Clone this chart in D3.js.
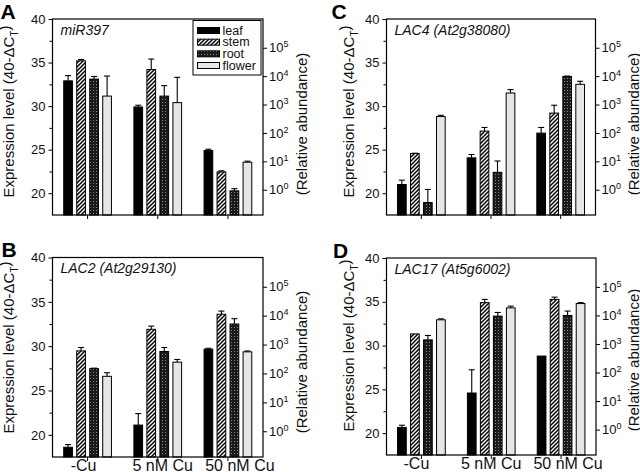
<!DOCTYPE html>
<html><head><meta charset="utf-8">
<script src="https://cdn.jsdelivr.net/npm/d3@7"></script>
<style>
html,body{margin:0;padding:0;background:#fff;}
svg{display:block;font-family:"Liberation Sans",Arial,Helvetica,sans-serif;}
</style></head><body>
<svg id="chart" width="640" height="472"></svg>
<script>
// ---------- data ----------
const groups = ["-Cu", "5 nM Cu", "50 nM Cu"];
const tissues = ["leaf", "stem", "root", "flower"];
const leftTicks = [20, 25, 30, 35, 40];
const leftMinorTicks = [22.5, 27.5, 32.5, 37.5];
const rightTickExp = [0, 1, 2, 3, 4, 5];
const yDomain = [17.5, 40];
// right axis: 10^n placed at 40-dCT value = rightBase + rightStep*n
const rightBase = 20.4;
const rightStep = 3.26;

const panelLetters = ["A", "B", "C", "D"];
const panelTitles = ["miR397", "LAC2 (At2g29130)", "LAC4 (At2g38080)", "LAC17 (At5g6002)"];

// A: miR397
const aLeaf = [32.9, 29.9, 24.9],   aLeafErr = [0.6, 0.2, 0.15];
const aStem = [35.2, 34.2, 22.45],  aStemErr = [0.15, 1.2, 0.12];
const aRoot = [33.1, 31.15, 20.27], aRootErr = [0.3, 1.2, 0.25];
const aFlower = [31.15, 30.4, 23.56], aFlowerErr = [2.3, 2.9, 0.12];
// B: LAC2
const bLeaf = [18.6, 21.1, 29.66],  bLeafErr = [0.3, 1.3, 0.1];
const bStem = [29.47, 31.9, 33.6],  bStemErr = [0.38, 0.36, 0.36];
const bRoot = [27.47, 29.4, 32.5],  bRootErr = [0.05, 0.45, 0.6];
const bFlower = [26.6, 28.2, 29.36], bFlowerErr = [0.4, 0.3, 0.1];
// C: LAC4
const cLeaf = [21.0, 24.06, 26.9],  cLeafErr = [0.5, 0.38, 0.65];
const cStem = [24.56, 27.13, 29.2], cStemErr = [0.03, 0.42, 0.9];
const cRoot = [18.93, 22.4, 33.4],  cRootErr = [1.5, 1.3, 0.05];
const cFlower = [28.8, 31.5, 32.5], cFlowerErr = [0.15, 0.4, 0.35];
// D: LAC17
const dLeaf = [20.65, 24.58, 28.8], dLeafErr = [0.25, 2.65, 0];
const dStem = [31.33, 34.9, 35.27], dStemErr = [0, 0.37, 0.26];
const dRoot = [30.65, 33.36, 33.44], dRootErr = [0.5, 0.42, 0.5];
const dFlower = [32.94, 34.3, 34.8], dFlowerErr = [0.11, 0.2, 0.1];

// ---------- layout ----------
const panels = [
  {letter: panelLetters[0], title: panelTitles[0], x0: 52.5, x1: 263, y0: 19, y1: 215,
   vals: [aLeaf, aStem, aRoot, aFlower], errs: [aLeafErr, aStemErr, aRootErr, aFlowerErr],
   legend: true, xLabels: null, letterX: 0.5, ylabX: 14, rlabX: 306.5, ylabY: 111.5, rlabY: 124},
  {letter: panelLetters[1], title: panelTitles[1], x0: 52.5, x1: 263, y0: 257.5, y1: 457,
   vals: [bLeaf, bStem, bRoot, bFlower], errs: [bLeafErr, bStemErr, bRootErr, bFlowerErr],
   legend: false, xLabels: [-4, 5, 12], letterX: 1.5, ylabX: 14, rlabX: 306.5, ylabY: 347.5, rlabY: 362},
  {letter: panelLetters[2], title: panelTitles[2], x0: 386.5, x1: 595.5, y0: 19, y1: 215,
   vals: [cLeaf, cStem, cRoot, cFlower], errs: [cLeafErr, cStemErr, cRootErr, cFlowerErr],
   legend: false, xLabels: null, letterX: 331.5, ylabX: 354, rlabX: 638.5, ylabY: 111.5, rlabY: 124},
  {letter: panelLetters[3], title: panelTitles[3], x0: 386.5, x1: 596, y0: 258, y1: 455,
   vals: [dLeaf, dStem, dRoot, dFlower], errs: [dLeafErr, dStemErr, dRootErr, dFlowerErr],
   legend: false, xLabels: [-5, 0, 7], letterX: 333, ylabX: 354, rlabX: 638.5, ylabY: 345.5, rlabY: 360}
];

const svg = d3.select("#chart");
const defs = svg.append("defs");
const hatch = defs.append("pattern").attr("id", "hatch").attr("patternUnits", "userSpaceOnUse")
  .attr("width", 4).attr("height", 4);
hatch.append("rect").attr("width", 4).attr("height", 4).attr("fill", "#fff");
hatch.append("path").attr("d", "M-1,1 l2,-2 M0,4 l4,-4 M3,5 l2,-2")
  .attr("stroke", "#000").attr("stroke-width", 1.5);
const dots = defs.append("pattern").attr("id", "dots").attr("patternUnits", "userSpaceOnUse")
  .attr("width", 3).attr("height", 3);
dots.append("rect").attr("width", 3).attr("height", 3).attr("fill", "#1a1a1a");
dots.append("rect").attr("width", 1).attr("height", 1).attr("fill", "#8a8a8a");

const fills = {leaf: "#000", stem: "url(#hatch)", root: "url(#dots)", flower: "#e6e6e6"};

function drawPanel(p) {
  const g = svg.append("g");
  const x = d3.scaleBand().domain(groups).range([p.x0, p.x1]);
  const xs = d3.scaleBand().domain(tissues).range([-26, 26]).paddingInner(0.33).paddingOuter(0.165);
  const y = d3.scaleLinear().domain(yDomain).range([p.y1, p.y0]);
  const yr = d3.scaleLinear()
    .domain([(yDomain[0] - rightBase) / rightStep, (yDomain[1] - rightBase) / rightStep])
    .range([p.y1, p.y0]);

  const rows = [];
  tissues.forEach((t, ti) => groups.forEach((gr, gi) => {
    rows.push({tissue: t, group: gr, value: p.vals[ti][gi], err: p.errs[ti][gi]});
  }));
  const cx = d => x(d.group) + x.bandwidth() / 2 + xs(d.tissue);

  // error bars (behind bars)
  const eb = g.append("g").attr("stroke", "#000").attr("stroke-width", 1.1);
  eb.selectAll("line.v").data(rows.filter(d => d.err > 0)).join("line")
    .attr("x1", d => cx(d) + xs.bandwidth() / 2).attr("x2", d => cx(d) + xs.bandwidth() / 2)
    .attr("y1", d => y(d.value)).attr("y2", d => y(d.value + d.err));
  eb.selectAll("line.c").data(rows.filter(d => d.err > 0)).join("line")
    .attr("x1", d => cx(d) + xs.bandwidth() / 2 - 3).attr("x2", d => cx(d) + xs.bandwidth() / 2 + 3)
    .attr("y1", d => y(d.value + d.err)).attr("y2", d => y(d.value + d.err));

  g.append("g").selectAll("rect").data(rows).join("rect")
    .attr("x", d => cx(d)).attr("width", xs.bandwidth())
    .attr("y", d => y(d.value)).attr("height", d => y(yDomain[0]) - y(d.value))
    .attr("fill", d => fills[d.tissue]).attr("stroke", "#000").attr("stroke-width", 1);

  // frame
  g.append("rect").attr("x", p.x0).attr("y", p.y0).attr("width", p.x1 - p.x0).attr("height", p.y1 - p.y0)
    .attr("fill", "none").attr("stroke", "#000").attr("stroke-width", 1.2);

  // left axis
  const la = g.append("g").attr("transform", `translate(${p.x0},0)`)
    .call(d3.axisLeft(y).tickValues(leftTicks).tickSize(4).tickSizeOuter(0).tickPadding(3));
  la.select(".domain").remove();
  la.selectAll("text").attr("font-size", 13).attr("font-family", null).attr("fill", "#111");
  const lm = g.append("g").attr("transform", `translate(${p.x0},0)`)
    .call(d3.axisLeft(y).tickValues(leftMinorTicks).tickSize(3).tickSizeOuter(0).tickFormat(""));
  lm.select(".domain").remove();

  // right axis
  const ra = g.append("g").attr("transform", `translate(${p.x1},0)`)
    .call(d3.axisRight(yr).tickValues(rightTickExp).tickSize(4).tickSizeOuter(0).tickPadding(2));
  ra.select(".domain").remove();
  ra.selectAll("text").attr("font-size", 13).attr("font-family", null).attr("fill", "#111")
    .text(null)
    .each(function(n) {
      const t = d3.select(this);
      t.append("tspan").text("10");
      t.append("tspan").attr("font-size", 9).attr("dy", "-0.55em").text(n);
    });

  // bottom axis ticks
  const ba = g.append("g").attr("transform", `translate(0,${p.y1})`)
    .call(d3.axisBottom(x).tickSize(4).tickSizeOuter(0).tickFormat(""));
  ba.select(".domain").remove();

  if (p.xLabels) {
    g.append("g").selectAll("text").data(groups).join("text")
      .attr("x", (d, i) => x(d) + x.bandwidth() / 2 + p.xLabels[i]).attr("y", p.y1 + 13.5)
      .attr("text-anchor", "middle").attr("font-size", 16).attr("fill", "#111").text(d => d);
  }

  // title
  g.append("text").attr("x", p.x0 + 8).attr("y", p.y0 + 15.5)
    .attr("font-size", 14).attr("font-style", "italic").attr("fill", "#111").text(p.title);

  // panel letter
  g.append("text").attr("x", p.letterX).attr("y", p.y0 - 0.5)
    .attr("font-size", 21).attr("font-weight", "bold").text(p.letter);

  // y label
  const yl = g.append("text").attr("transform", `translate(${p.ylabX},${p.ylabY}) rotate(-90)`)
    .attr("text-anchor", "middle").attr("font-size", 15).attr("fill", "#111");
  yl.append("tspan").text("Expression level (40-\u0394C");
  yl.append("tspan").attr("font-size", 10).attr("dy", "0.35em").text("T");
  yl.append("tspan").attr("dy", "-0.5em").text(")");

  g.append("text").attr("transform", `translate(${p.rlabX},${p.rlabY}) rotate(-90)`)
    .attr("text-anchor", "middle").attr("font-size", 15).attr("fill", "#111")
    .text("(Relative abundance)");

  if (p.legend) {
    const lg = g.append("g");
    lg.append("rect").attr("x", 193).attr("y", 20.5).attr("width", 68).attr("height", 54.5)
      .attr("fill", "#fff").attr("stroke", "#000").attr("stroke-width", 1);
    const ly = d3.scalePoint().domain(tissues).range([30.5, 65.5]);
    lg.selectAll("rect.sw").data(tissues).join("rect").attr("class", "sw")
      .attr("x", 197.5).attr("y", d => ly(d) - 3).attr("width", 22).attr("height", 6)
      .attr("fill", d => fills[d]).attr("stroke", "#000").attr("stroke-width", 1);
    lg.selectAll("text").data(tissues).join("text")
      .attr("x", 222.5).attr("y", d => ly(d) + 4.3).attr("font-size", 12.5).attr("fill", "#111").text(d => d);
  }
}

panels.forEach(drawPanel);
</script>
</body></html>
